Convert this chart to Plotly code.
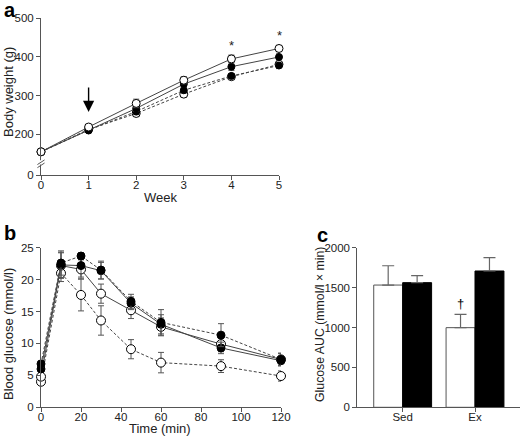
import plotly.graph_objects as go

# ---------------- data ----------------
weeks = [0, 1, 2, 3, 4, 5]
bw_open_solid = [155, 219, 280, 340, 395, 422]
bw_open_solid_err = [5, 5, 11, 9, 10, 8]
bw_fill_solid = [155, 210, 267, 330, 375, 400]
bw_fill_solid_err = [5, 4, 8, 7, 10, 8]
bw_fill_dash = [155, 211, 259, 314, 351, 378]
bw_fill_dash_err = [5, 4, 8, 7, 6, 8]
bw_open_dash = [155, 213, 254, 304, 349, 381]
bw_open_dash_err = [5, 4, 8, 8, 6, 8]
week_ticks = [0, 1, 2, 3, 4, 5]
bw_tick_vals = [95, 200, 300, 400, 500]
bw_tick_text = ["0", "200", "300", "400", "500"]
star_weeks = [4, 5]

times = [0, 10, 20, 30, 45, 60, 90, 120]
bg_fill_dash = [6.8, 22.6, 23.7, 21.5, 16.6, 13.3, 11.3, 7.5]
bg_fill_dash_err = [0.5, 1.9, 0.5, 1.4, 1.1, 2.0, 1.8, 1.0]
bg_fill_solid = [6.0, 22.3, 22.2, 21.4, 16.3, 13.0, 9.3, 7.3]
bg_fill_solid_err = [0.5, 2.0, 1.8, 1.3, 1.0, 1.5, 0.9, 0.8]
bg_open_solid = [4.8, 22.2, 21.6, 17.8, 15.2, 12.6, 9.9, 7.5]
bg_open_solid_err = [0.5, 2.0, 1.5, 1.5, 1.3, 1.4, 1.2, 0.9]
bg_open_dash = [4.0, 21.0, 17.6, 13.6, 9.1, 7.0, 6.45, 4.9]
bg_open_dash_err = [0.5, 1.3, 2.5, 2.3, 1.5, 1.6, 1.0, 0.8]
time_ticks = [0, 20, 40, 60, 80, 100, 120]
bg_ticks = [0, 5, 10, 15, 20, 25]

groups = ["Sed", "Ex"]
auc_white = [1532, 998]
auc_white_err = [242, 167]
auc_black = [1562, 1708]
auc_black_err = [88, 167]
auc_ticks = [0, 500, 1000, 1500, 2000]

# ---------------- style ----------------
FONT = "Liberation Sans, Arial, sans-serif"
AX = "#555555"
LINE = "#444444"
W, H = 520, 440


def px_x(p):
    return p / W


def px_y(p):
    return 1 - p / H


fig = go.Figure()


def add_series(x, y, err, filled, dashed, xa, ya, size):
    fig.add_trace(go.Scatter(
        x=x, y=y, xaxis=xa, yaxis=ya, mode="lines+markers",
        line=dict(color=LINE, width=1, dash="3px,2px" if dashed else "solid"),
        marker=dict(size=size, symbol="circle",
                    color="black" if filled else "white",
                    line=dict(color="black", width=1)),
        error_y=dict(type="data", array=err, visible=True, color="#555555",
                     thickness=1, width=3),
        cliponaxis=False, showlegend=False))


# panel a
add_series(weeks, bw_open_dash, bw_open_dash_err, False, True, "x", "y", 8)
add_series(weeks, bw_fill_dash, bw_fill_dash_err, True, True, "x", "y", 7)
add_series(weeks, bw_fill_solid, bw_fill_solid_err, True, False, "x", "y", 7)
add_series(weeks, bw_open_solid, bw_open_solid_err, False, False, "x", "y", 8)

# panel b
add_series(times, bg_open_dash, bg_open_dash_err, False, True, "x2", "y2", 9)
add_series(times, bg_open_solid, bg_open_solid_err, False, False, "x2", "y2", 9)
add_series(times, bg_fill_solid, bg_fill_solid_err, True, False, "x2", "y2", 8)
add_series(times, bg_fill_dash, bg_fill_dash_err, True, True, "x2", "y2", 8)

# panel c
fig.add_trace(go.Bar(
    x=groups, y=auc_white, xaxis="x3", yaxis="y3",
    marker=dict(color="white", line=dict(color="#555555", width=1)),
    error_y=dict(type="data", array=auc_white_err, arrayminus=[0, 0],
                 symmetric=False, color="#666666", thickness=1.2, width=6),
    showlegend=False))
fig.add_trace(go.Bar(
    x=groups, y=auc_black, xaxis="x3", yaxis="y3",
    marker=dict(color="black", line=dict(color="black", width=1)),
    error_y=dict(type="data", array=auc_black_err, arrayminus=[0, 0],
                 symmetric=False, color="#666666", thickness=1.2, width=6),
    showlegend=False))

tickfont = dict(family=FONT, size=11.5, color="#222222")
common = dict(showline=True, linecolor=AX, linewidth=1, ticks="outside",
              ticklen=4, tickcolor=AX, tickwidth=1, showgrid=False,
              zeroline=False, tickfont=tickfont, automargin=False)
xcommon = dict(common, ticklabelstandoff=-5)

fig.update_layout(
    template="none",
    width=W, height=H, margin=dict(l=0, r=0, t=0, b=0, pad=0, autoexpand=False),
    plot_bgcolor="white", paper_bgcolor="white",
    barmode="group", bargap=0.2, bargroupgap=0,
    font=dict(family=FONT, color="#222222"),
    xaxis=dict(domain=[px_x(41), px_x(279)], range=[0, 5], tickvals=week_ticks,
               anchor="y", **xcommon),
    yaxis=dict(domain=[px_y(175), px_y(18.3)], range=[95, 500],
               tickvals=bw_tick_vals, ticktext=bw_tick_text, anchor="x", **common),
    xaxis2=dict(domain=[px_x(41), px_x(281)], range=[0, 120], tickvals=time_ticks,
                anchor="y2", **xcommon),
    yaxis2=dict(domain=[px_y(407.3), px_y(247.7)], range=[0, 25], tickvals=bg_ticks,
                anchor="x2", **common),
    xaxis3=dict(domain=[px_x(357.3), px_x(520)], range=[-0.627, 1.622],
                type="category", anchor="y3", **xcommon),
    yaxis3=dict(domain=[px_y(407.3), px_y(247.7)], range=[0, 2000], tickvals=auc_ticks,
                anchor="x3", **common),
)

# axis break on panel a
fig.add_shape(type="rect", xref="x domain", yref="y", x0=-0.02, x1=0.02,
              y0=122, y1=133, fillcolor="white", line=dict(width=0), layer="above")
for yv in (120, 128):
    fig.add_shape(type="line", xref="x domain", yref="y", x0=-0.015, x1=0.015,
                  y0=yv - 6, y1=yv + 6, line=dict(color=AX, width=1))

# arrow at week 1
fig.add_annotation(x=1, y=258, xref="x", yref="y", ax=0, ay=-26, text="",
                   showarrow=True, arrowhead=2, arrowsize=1.6, arrowwidth=1.4,
                   arrowcolor="black")

# asterisks
for wk in star_weeks:
    i = weeks.index(wk)
    fig.add_annotation(x=wk, y=bw_open_solid[i] + bw_open_solid_err[i], xref="x", yref="y",
                       text="*", showarrow=False, xanchor="center", yanchor="bottom",
                       font=dict(family=FONT, size=13, color="#222222"))

# dagger
fig.add_annotation(x="Ex", y=auc_white[1] + auc_white_err[1], xref="x3", yref="y3",
                   text="†", showarrow=False, xanchor="center", yanchor="bottom",
                   xshift=-14.5, yshift=1,
                   font=dict(family=FONT, size=13, color="black"))

# panel letters
for letter, x, y in (("a", 2, -3), ("b", 2, 220), ("c", 315, 222)):
    fig.add_annotation(x=px_x(x), y=px_y(y), xref="paper", yref="paper", text=letter,
                       showarrow=False, xanchor="left", yanchor="top",
                       font=dict(family=FONT, size=20, color="black", weight="bold"))

# axis titles
title_font = dict(family=FONT, size=13, color="#222222")
titles = [
    ("Body weight (g)", 8, 92, -90, title_font),
    ("Week", 160, 197, 0, title_font),
    ("Blood glucose (mmol/l)", 8, 334, -90, title_font),
    ("Time (min)", 160, 428, 0, title_font),
    ("Glucose AUC (mmol/l × min)", 320, 325, -90,
     dict(family=FONT, size=12.3, color="#222222")),
]
for text, x, y, ang, f in titles:
    fig.add_annotation(x=px_x(x), y=px_y(y), xref="paper", yref="paper", text=text,
                       textangle=ang, showarrow=False, xanchor="center",
                       yanchor="middle", font=f)

fig.write_html(
    "out.html",
    config={"displayModeBar": False},
    post_script="document.body.style.margin='0';document.body.style.overflow='hidden';",
)
